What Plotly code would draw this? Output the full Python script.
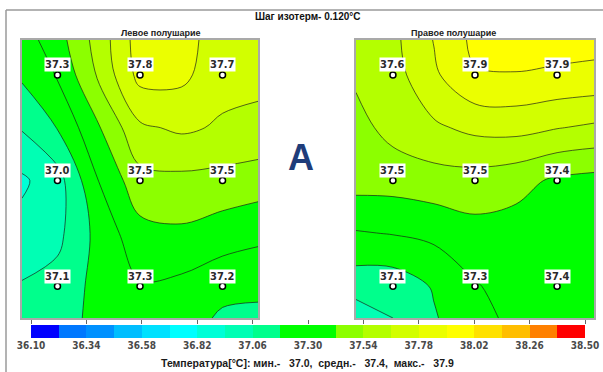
import plotly.graph_objects as go

# ---------------- data ----------------
grid_cols = [0, 1, 2]
grid_rows = [0, 1, 2]

# measured point values (rows top->bottom, cols left->right)
left_values = [[37.3, 37.8, 37.7],
               [37.0, 37.5, 37.5],
               [37.1, 37.3, 37.2]]
right_values = [[37.6, 37.9, 37.9],
                [37.5, 37.5, 37.4],
                [37.1, 37.3, 37.4]]

# temperature field (node grid)
left_field_x = [-0.43, 0, 0.5, 1, 1.5, 2, 2.43]
right_field_x = [-0.45, 0, 0.5, 1, 1.5, 2, 2.45]
field_y = [-0.33, 0, 0.5, 1, 1.5, 2, 2.30]

left_field = [
    [37.24, 37.37, 37.59, 37.84, 37.81, 37.74, 37.72],
    [37.20, 37.31, 37.56, 37.82, 37.81, 37.70, 37.69],
    [37.07, 37.185, 37.41, 37.64, 37.68, 37.645, 37.63],
    [36.92, 37.01, 37.302, 37.50, 37.51, 37.50, 37.48],
    [36.98, 37.03, 37.22, 37.38, 37.40, 37.36, 37.33],
    [37.07, 37.10, 37.22, 37.29, 37.27, 37.22, 37.21],
    [37.12, 37.12, 37.22, 37.25, 37.24, 37.16, 37.15],
]
right_field = [
    [37.60, 37.63, 37.785, 37.93, 37.95, 37.95, 37.94],
    [37.56, 37.61, 37.76, 37.89, 37.895, 37.88, 37.87],
    [37.50, 37.58, 37.64, 37.69, 37.70, 37.665, 37.64],
    [37.47, 37.47, 37.49, 37.49, 37.46, 37.40, 37.38],
    [37.29, 37.305, 37.33, 37.38, 37.37, 37.39, 37.37],
    [37.11, 37.11, 37.19, 37.29, 37.35, 37.38, 37.37],
    [36.99, 37.06, 37.17, 37.26, 37.33, 37.36, 37.36],
]

# colour scale (isotherm step 0.120 °C)
level_start, level_end, level_step = 36.10, 38.50, 0.12
band_edges = [36.10, 36.22, 36.34, 36.46, 36.58, 36.70, 36.82, 36.94, 37.06, 37.18,
              37.30, 37.42, 37.54, 37.66, 37.78, 37.90, 38.02, 38.14, 38.26, 38.38, 38.50]
band_index = [0, 1, 2, 3, 4, 5, 6, 7, 8, 9, 10, 11, 12, 13, 14, 15, 16, 17, 18, 19]
band_colors = ["#0000ff", "#0078ff", "#0091ff", "#00beff", "#00e1ff",
               "#00ffff", "#00ffd7", "#00ffb4", "#00ff8c", "#00ff00",
               "#00ff00", "#8cff00", "#b4ff00", "#d2ff00", "#ebff00",
               "#ffff00", "#ffe100", "#ffbe00", "#ff8000", "#ff0000"]
tick_vals = [36.10, 36.34, 36.58, 36.82, 37.06, 37.30, 37.54, 37.78, 38.02, 38.26, 38.50]
tick_text = ["36.10", "36.34", "36.58", "36.82", "37.06", "37.30", "37.54", "37.78",
             "38.02", "38.26", "38.50"]

W, H = 603, 372
NARROW = "Liberation Sans Narrow, DejaVu Sans Condensed, Arial Narrow, Liberation Sans, sans-serif"
SANS = "Liberation Sans, Arial, sans-serif"

fig = go.Figure()

# contour colour scale: band k is sampled at (k+1)/21
ext = [band_colors[0]] + band_colors + [band_colors[-1]]
contour_scale = [[k / (len(ext) - 1), c] for k, c in enumerate(ext)]

panels = [
    (left_field, left_field_x, left_values, "x", "y"),
    (right_field, right_field_x, right_values, "x2", "y2"),
]
for field, fx, vals, xa, ya in panels:
    fig.add_trace(go.Contour(
        x=fx, y=field_y, z=field, xaxis=xa, yaxis=ya,
        colorscale=contour_scale, showscale=False, autocontour=False,
        contours=dict(start=level_start, end=level_end, size=level_step,
                      coloring="fill", showlines=True),
        line=dict(color="rgba(25,25,25,0.85)", width=0.8, smoothing=1.0),
        hoverinfo="skip"))
    xs, ys, txt = [], [], []
    for r in grid_rows:
        for c in grid_cols:
            xs.append(c)
            ys.append(r)
            txt.append(f"{vals[r][c]:.1f}")
    fig.add_trace(go.Scatter(
        x=xs, y=ys, mode="markers", xaxis=xa, yaxis=ya, hoverinfo="skip",
        marker=dict(size=6, color="white", line=dict(color="black", width=1.5))))
    for x, y, t in zip(xs, ys, txt):
        fig.add_annotation(x=x, y=y, xref=xa, yref=ya, text=t, showarrow=False,
                           yshift=10, bgcolor="white", borderpad=0,
                           font=dict(family=NARROW, size=11, color="#2a2a2a", weight="bold"))

# colour bar
bar_scale = []
for k, c in enumerate(band_colors):
    bar_scale.append([k / len(band_colors), c])
    bar_scale.append([(k + 1) / len(band_colors), c])
fig.add_trace(go.Heatmap(x=band_edges, y=[0], z=[band_index], xaxis="x3", yaxis="y3",
                         colorscale=bar_scale, zmin=-0.5, zmax=19.5, showscale=False,
                         hoverinfo="skip"))
fig.add_trace(go.Scatter(x=[level_start], y=[0], xaxis="x4", yaxis="y3", mode="markers",
                         marker=dict(opacity=0), hoverinfo="skip"))

all_vals = [v for row in left_values + right_values for v in row]
vmin, vmax = min(all_vals), max(all_vals)
vmean = sum(all_vals) / len(all_vals)

panel_ax = dict(showgrid=False, zeroline=False, showticklabels=False, ticks="",
                showline=True, mirror=True, linecolor="#a9a9a9", linewidth=2,
                automargin=False)
ydom = [1 - 318 / H, 1 - 40 / H]
fig.update_layout(
    width=W, height=H, margin=dict(l=0, r=0, t=0, b=0, pad=0, autoexpand=False),
    paper_bgcolor="white", plot_bgcolor="white", showlegend=False,
    xaxis=dict(domain=[22 / W, 258 / W], range=[-0.43, 2.43], anchor="y", **panel_ax),
    yaxis=dict(domain=ydom, range=[2.30, -0.33], anchor="x", **panel_ax),
    xaxis2=dict(domain=[356 / W, 594 / W], range=[-0.45, 2.45], anchor="y2", **panel_ax),
    yaxis2=dict(domain=ydom, range=[2.30, -0.33], anchor="x2", **panel_ax),
    xaxis3=dict(domain=[31 / W, 585 / W], range=[level_start, level_end], anchor="y3",
                tickvals=tick_vals, ticktext=tick_text, ticks="", showgrid=False,
                zeroline=False, showline=False, automargin=False,
                tickfont=dict(family=NARROW, size=10, color="#4a4a4a", weight="bold")),
    xaxis4=dict(overlaying="x3", side="top", anchor="y3", range=[level_start, level_end],
                tickvals=tick_vals, showticklabels=False, ticks="outside", ticklen=4,
                tickcolor="#666666", tickwidth=1, showgrid=False, zeroline=False,
                showline=False, automargin=False),
    yaxis3=dict(domain=[1 - 338 / H, 1 - 325 / H], range=[-0.5, 0.5], anchor="x3",
                visible=False, automargin=False),
)

def ann(x, y, text, size, color="#111111", family=SANS, weight="bold"):
    fig.add_annotation(x=x / W, y=1 - y / H, xref="paper", yref="paper", text=text,
                       showarrow=False, xanchor="center", yanchor="middle",
                       font=dict(family=family, size=size, color=color, weight=weight))

ann(307, 17, "Шаг изотерм- 0.120°C", 10)
ann(161, 33, "Левое полушарие", 9, color="#222222")
ann(453, 33, "Правое полушарие", 9, color="#222222")
ann(301, 157, "A", 36, color="#1f3d7a")
nb = "\u00a0"
ann(307, 363, f"Температура[°C]: мин.-{nb*3}{vmin:.1f},{nb*2}средн.-{nb*3}{vmean:.1f},"
              f"{nb*2}макс.-{nb*3}{vmax:.1f}", 10.5, color="#1a1a1a")

# outer frame
fig.add_shape(type="line", xref="paper", yref="paper", x0=6 / W, x1=1, y0=1 - 10 / H,
              y1=1 - 10 / H, line=dict(color="#9a9a9a", width=1.5))
fig.add_shape(type="line", xref="paper", yref="paper", x0=6 / W, x1=6 / W, y0=0,
              y1=1 - 10 / H, line=dict(color="#9a9a9a", width=1.5))

fig.write_html("out.html")
